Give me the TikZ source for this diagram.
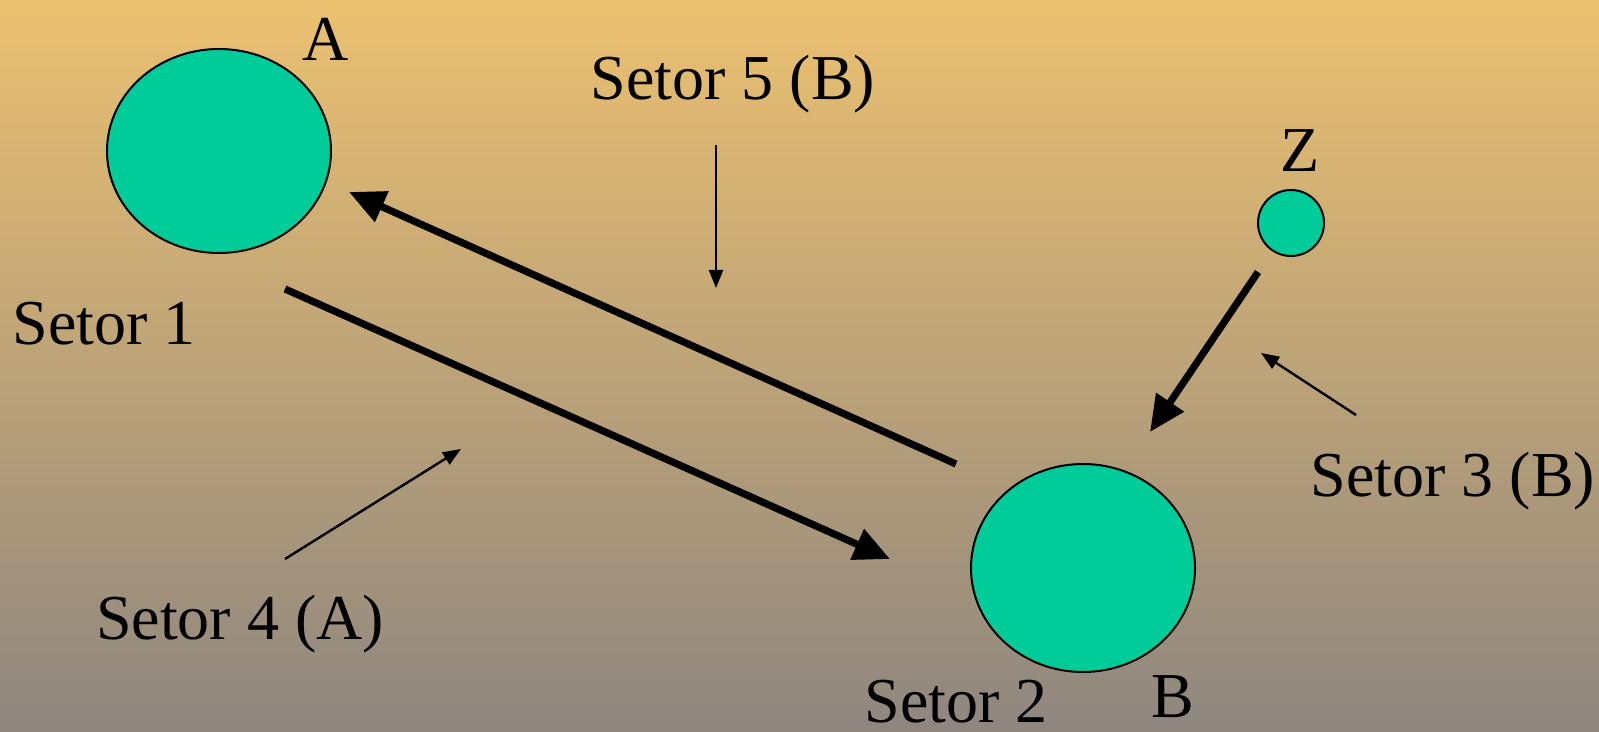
\documentclass[tikz,border=0pt]{standalone}
\usepackage{fontspec}
\setmainfont{Liberation Serif}
\usetikzlibrary{arrows.meta}
\definecolor{bgtop}{RGB}{235,192,112}
\definecolor{bgbot}{RGB}{142,134,127}
\definecolor{blob}{RGB}{0,204,153}
\begin{document}
\begin{tikzpicture}[x=0.5pt,y=-0.5pt,
  lbl/.style={font=\fontsize{32}{37}\selectfont,inner sep=0pt},
  thick arrow/.style={line width=3.6pt,-{Triangle[length=18pt,width=16pt]}},
  thin arrow/.style={line width=1.2pt,-{Triangle[length=9pt,width=7pt]}}]
\shade[top color=bgtop,bottom color=bgbot] (0,0) rectangle (1599,732);
\useasboundingbox (0,0) rectangle (1599,732);
\draw[line width=1pt,fill=blob] (219,151) ellipse [x radius=112, y radius=102];
\draw[line width=1pt,fill=blob] (1083,568) ellipse [x radius=112, y radius=104];
\draw[line width=1pt,fill=blob] (1291,223) circle [radius=33];
\node[lbl] (tA) at (326,39) {A};
\node[lbl] (t5) at (733,84) {Setor 5 (B)};
\node[lbl] (tZ) at (1300,151) {Z};
\node[lbl] (t1) at (104,324) {Setor 1};
\node[lbl] (t3) at (1453,481) {Setor 3 (B)};
\node[lbl] (t4) at (240,624) {Setor 4 (A)};
\node[lbl] (t2) at (956,702) {Setor 2};
\node[lbl] (tB) at (1173,697) {B};
\coordinate (a1s) at (956,464);
\coordinate (a1e) at (349,192);
\coordinate (a2s) at (285,289);
\coordinate (a2e) at (890,559);
\coordinate (azs) at (1258,272);
\coordinate (aze) at (1150,432);
\coordinate (a5s) at (716,145);
\coordinate (a5e) at (716,288);
\coordinate (a4s) at (285,559);
\coordinate (a4e) at (461,449);
\coordinate (a3s) at (1356,415);
\coordinate (a3e) at (1261,353);
\draw[thick arrow] (a1s) -- (a1e);
\draw[thick arrow] (a2s) -- (a2e);
\draw[thick arrow] (azs) -- (aze);
\draw[thin arrow] (a5s) -- (a5e);
\draw[thin arrow] (a4s) -- (a4e);
\draw[thin arrow] (a3s) -- (a3e);
\end{tikzpicture}
\end{document}
